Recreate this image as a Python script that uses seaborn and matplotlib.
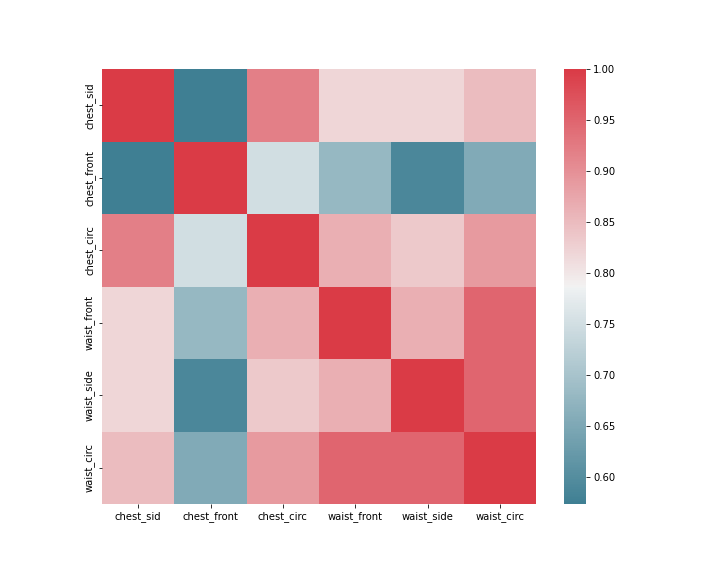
import numpy as np
import pandas as pd
import seaborn as sns
import matplotlib
matplotlib.use("Agg")
import matplotlib.pyplot as plt

labels = ["chest_sid", "chest_front", "chest_circ", "waist_front", "waist_side", "waist_circ"]
row_chest_sid   = [1.000, 0.574, 0.920, 0.820, 0.820, 0.850]
row_chest_front = [0.574, 1.000, 0.750, 0.680, 0.590, 0.655]
row_chest_circ  = [0.920, 0.750, 1.000, 0.865, 0.835, 0.890]
row_waist_front = [0.820, 0.680, 0.865, 1.000, 0.865, 0.950]
row_waist_side  = [0.820, 0.590, 0.835, 0.865, 1.000, 0.950]
row_waist_circ  = [0.850, 0.655, 0.890, 0.950, 0.950, 1.000]

corr = pd.DataFrame([row_chest_sid, row_chest_front, row_chest_circ,
                     row_waist_front, row_waist_side, row_waist_circ],
                    index=labels, columns=labels)

W, H = 720, 576
fig = plt.figure(figsize=(10, 8), dpi=72)
ax = fig.add_axes([102 / W, (H - 504) / H, 434 / W, 435 / H])
cax = fig.add_axes([564 / W, (H - 504) / H, 22 / W, 435 / H])
cmap = sns.diverging_palette(220, 10, as_cmap=True)
sns.heatmap(corr, cmap=cmap, ax=ax, cbar_ax=cax)
fig.savefig("out.png", dpi=72)
